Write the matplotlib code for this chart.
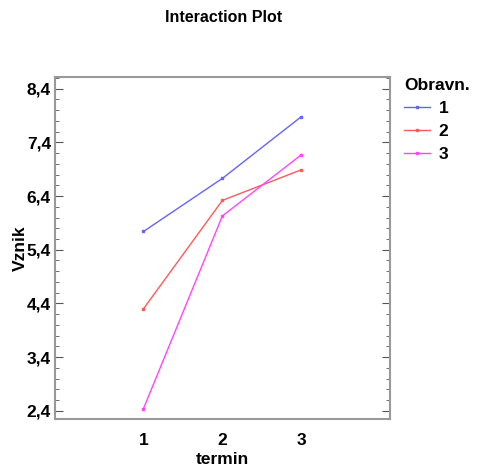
import matplotlib
matplotlib.use("Agg")
import matplotlib.pyplot as plt
from matplotlib.ticker import MultipleLocator, FuncFormatter

plt.rcParams["font.family"] = ["Liberation Sans", "DejaVu Sans"]

termin = [1, 2, 3]
obr1 = [5.74, 6.73, 7.88]
obr2 = [4.30, 6.32, 6.89]
obr3 = [2.44, 6.03, 7.17]
series_names = ["1", "2", "3"]
colors = ["#6464ff", "#ff5a5a", "#ff44ff"]

fig = plt.figure(figsize=(4.83, 4.69), dpi=100)
ax = fig.add_axes([0.114, 0.107, 0.693, 0.729])

for vals, name, c in zip([obr1, obr2, obr3], series_names, colors):
    ax.plot(termin, vals, color=c, lw=1, marker="s", ms=2, label=name)

ax.set_xlim(-0.12, 4.12)
ax.set_ylim(2.25, 8.62)
ax.set_xticks(termin)
ax.yaxis.set_major_locator(MultipleLocator(1.0, offset=0.4))
ax.yaxis.set_minor_locator(MultipleLocator(0.2, offset=0.0))
ax.yaxis.set_major_formatter(FuncFormatter(lambda v, p: f"{v:.1f}".replace(".", ",")))

ax.tick_params(axis="y", which="both", direction="in", right=True, colors="#555555",
               labelcolor="black", labelsize=12.5, pad=3)
ax.tick_params(axis="y", which="major", length=6)
ax.tick_params(axis="y", which="minor", length=3)
ax.tick_params(axis="x", length=0, labelsize=12.5, pad=10)
for lab in ax.get_xticklabels() + ax.get_yticklabels():
    lab.set_fontweight("bold")
for s in ax.spines.values():
    s.set_color("#999999")
    s.set_linewidth(1.5)

ax.set_xlabel("termin", fontsize=12.5, fontweight="bold", labelpad=3)
ax.set_ylabel("Vznik", fontsize=12.5, fontweight="bold", labelpad=-1)
fig.text(0.463, 0.962, "Interaction Plot", ha="center", va="center",
         fontsize=11.5, fontweight="bold")

leg = fig.legend(loc="upper left", bbox_to_anchor=(0.822, 0.848), frameon=False,
                 title="Obravn.", fontsize=12.5, handlelength=1.5, handletextpad=0.5,
                 labelspacing=0.45, borderaxespad=0, alignment="left")
leg.get_title().set_fontweight("bold")
leg.get_title().set_fontsize(12.5)
for t in leg.get_texts():
    t.set_fontweight("bold")

fig.savefig("out.png", dpi=100)
